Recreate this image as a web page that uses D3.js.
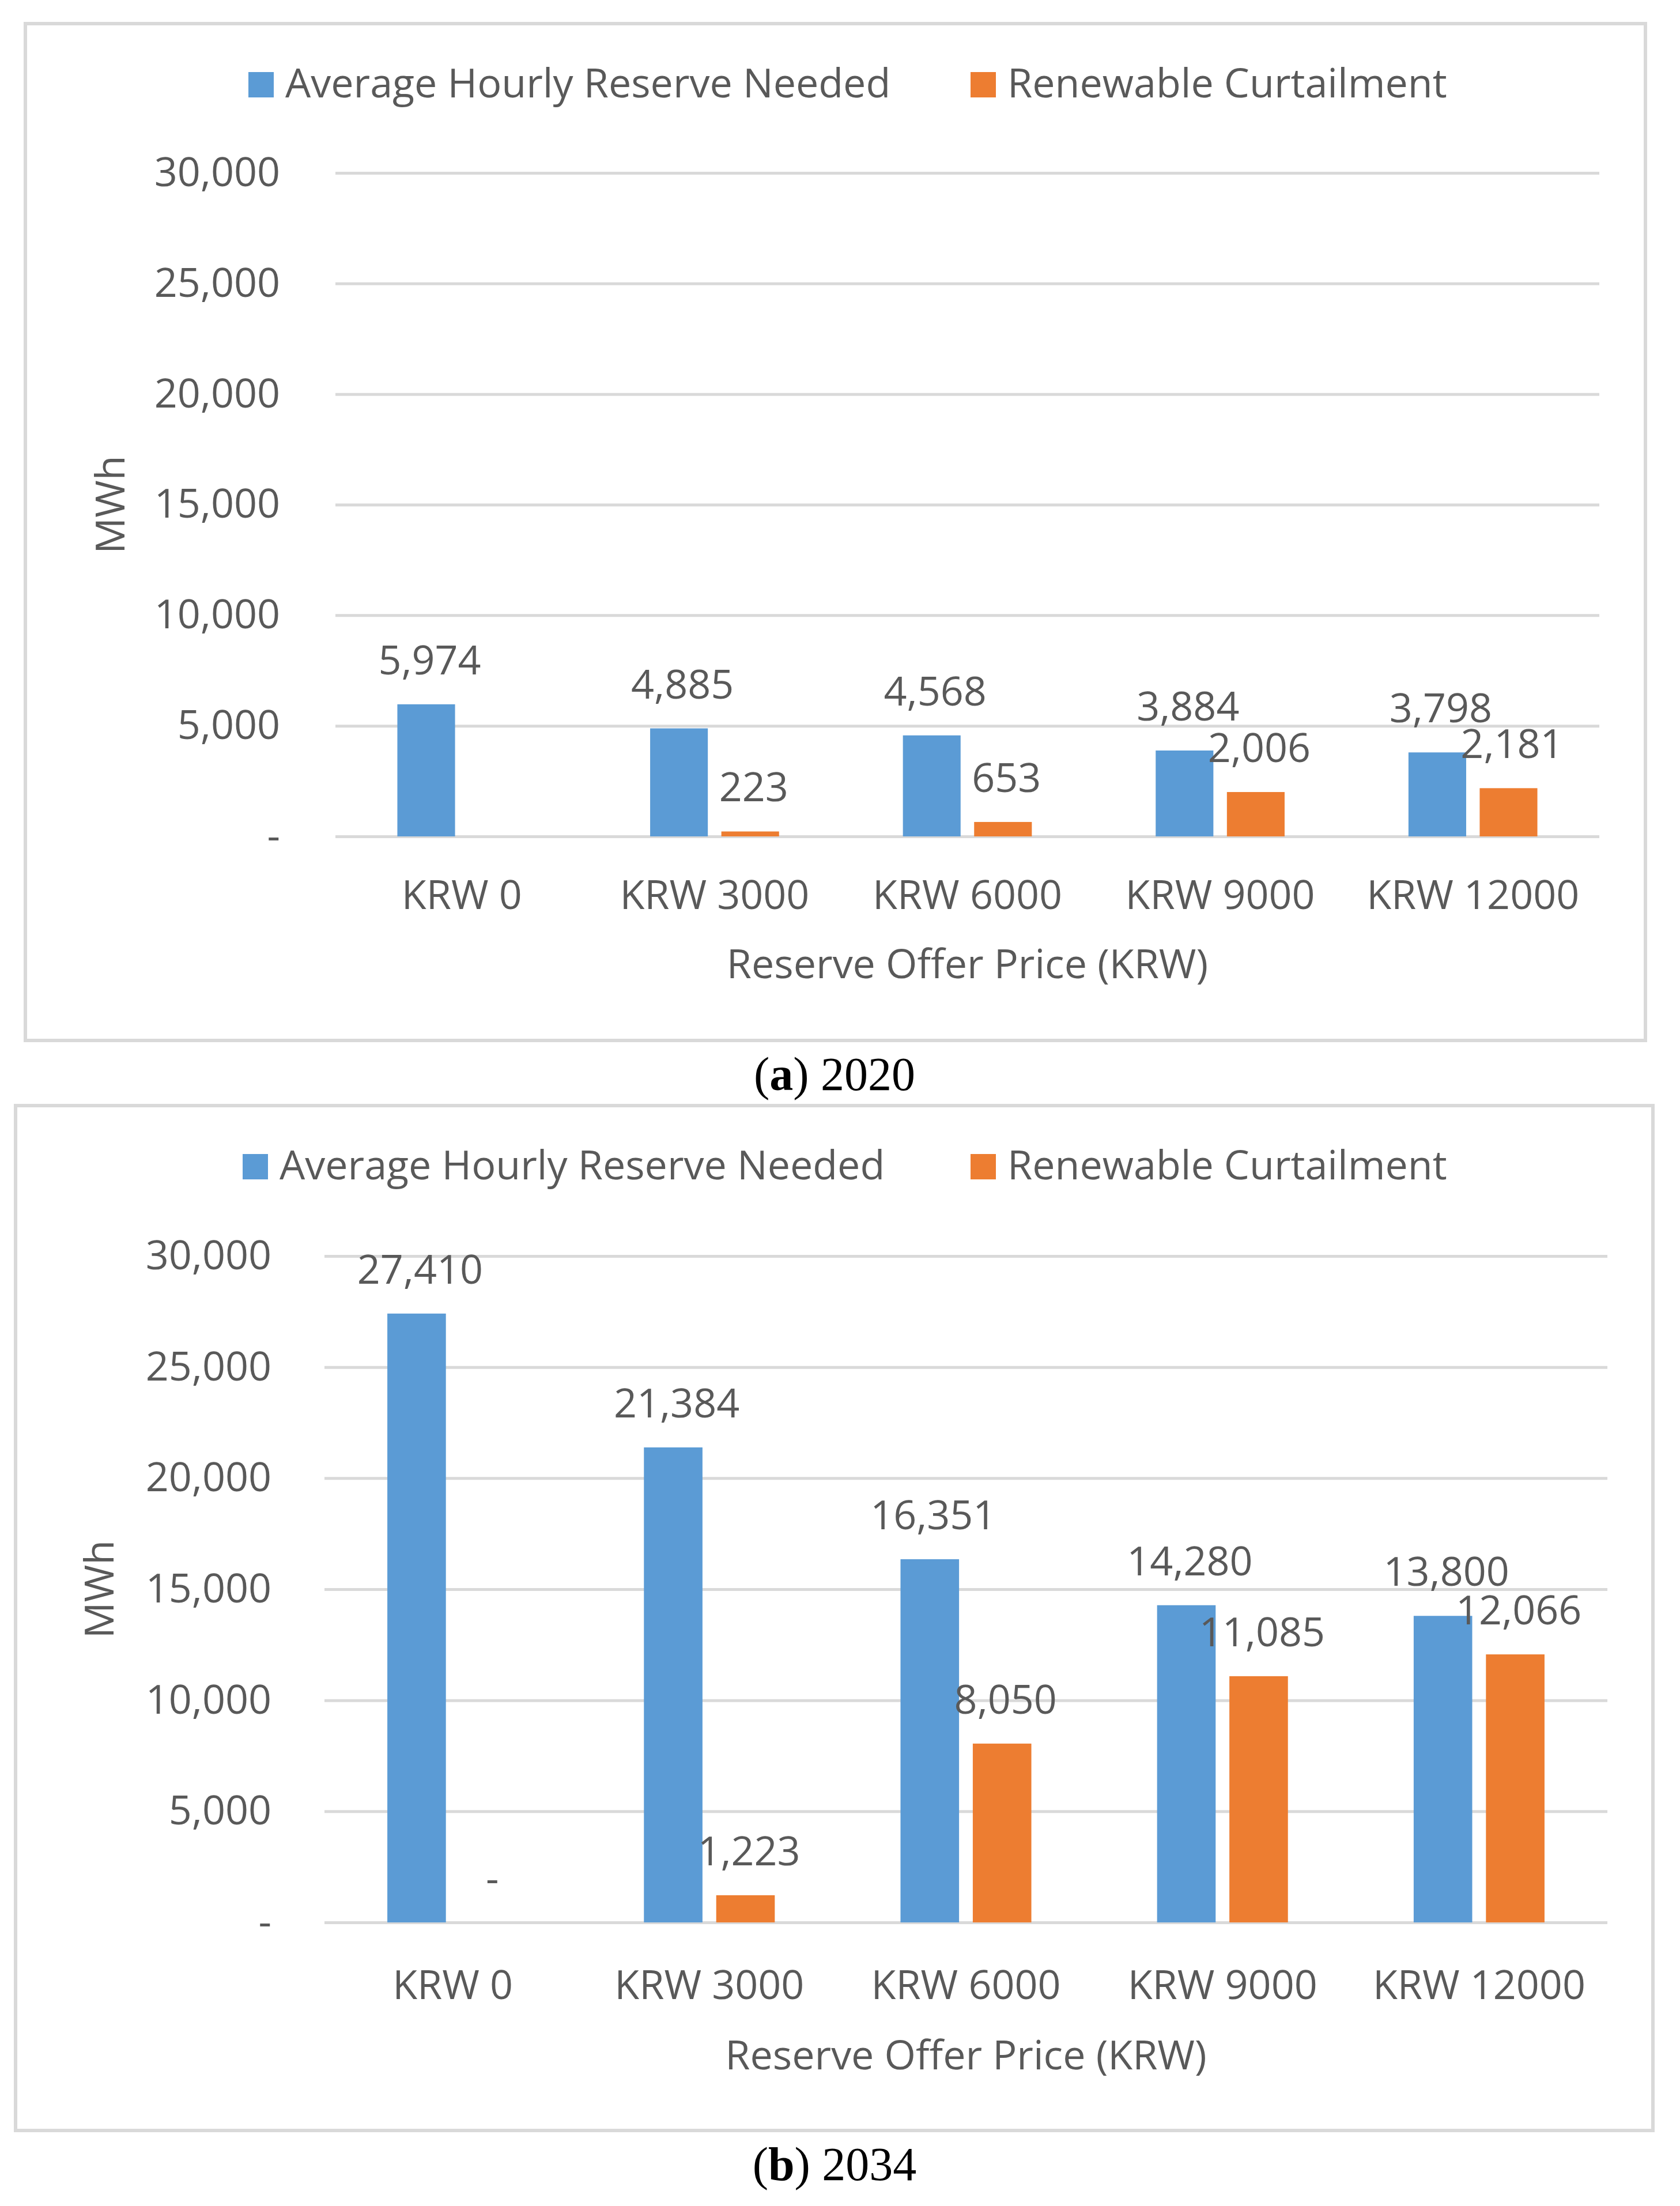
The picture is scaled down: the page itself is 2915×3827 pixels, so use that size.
<!DOCTYPE html>
<html>
<head>
<meta charset="utf-8">
<script src="https://cdn.jsdelivr.net/npm/d3@7"></script>
<style>
  body { margin: 0; background: #fff; }
  svg { display: block; }
  .chart-text { font-family: "Open Sans", sans-serif; fill: #595959; }
</style>
</head>
<body>
<script>
// values
const categories = ["KRW 0", "KRW 3000", "KRW 6000", "KRW 9000", "KRW 12000"];
const seriesNames = ["Average Hourly Reserve Needed", "Renewable Curtailment"];
const reserve2020 = [5974, 4885, 4568, 3884, 3798];
const curtail2020 = [null, 223, 653, 2006, 2181];
const reserve2034 = [27410, 21384, 16351, 14280, 13800];
const curtail2034 = [0, 1223, 8050, 11085, 12066];
const yTicks = [0, 5000, 10000, 15000, 20000, 25000, 30000];

const colors = ["#5B9BD5", "#ED7D31"];
const fmt = v => v === 0 ? "-" : d3.format(",")(v);
const fontSize = 70;

// layout of each panel (pixels)
const panels = [
    {
        series: [reserve2020, curtail2020], letter: "a", year: "2020",
        frame: { x: 44, y: 41, w: 2811, h: 1764 },
        plot: { x: 582, y: 300, w: 2193, h: 1151 },
        legend: { top: 125, sq1: 431, sq2: 1684 },
        yTitleX: 189, tickRight: 486, xTickPad: 76, xTitleY: 1697, captionY: 1891
    },
    {
        series: [reserve2034, curtail2034], letter: "b", year: "2034",
        frame: { x: 27, y: 1918, w: 2841, h: 1778 },
        plot: { x: 563, y: 2179, w: 2226, h: 1156 },
        legend: { top: 2002, sq1: 421, sq2: 1684 },
        yTitleX: 170, tickRight: 471, xTickPad: 83, xTitleY: 3590, captionY: 3782
    }
];

const svg = d3.select("body").append("svg")
    .attr("width", 2915)
    .attr("height", 3827);

panels.forEach(p => drawPanel(p));

function drawPanel(p) {
    const g = svg.append("g");

    // outer frame
    g.append("rect")
        .attr("x", p.frame.x).attr("y", p.frame.y)
        .attr("width", p.frame.w).attr("height", p.frame.h)
        .attr("fill", "none")
        .attr("stroke", "#D9D9D9")
        .attr("stroke-width", 6);

    // legend
    const sq = 44;
    [p.legend.sq1, p.legend.sq2].forEach((lx, i) => {
        g.append("rect")
            .attr("x", lx).attr("y", p.legend.top)
            .attr("width", sq).attr("height", sq)
            .attr("fill", colors[i]);
        g.append("text")
            .attr("class", "chart-text")
            .attr("x", lx + sq + 20)
            .attr("y", p.legend.top + sq)
            .attr("font-size", fontSize)
            .text(seriesNames[i]);
    });

    const plot = g.append("g")
        .attr("transform", `translate(${p.plot.x},${p.plot.y})`);

    const x0 = d3.scaleBand()
        .domain(categories)
        .range([0, p.plot.w]);

    const pad = x0.step() * 0.245;
    const x1 = d3.scaleBand()
        .domain([0, 1])
        .range([pad, x0.step() - pad])
        .paddingInner(0.19);

    const y = d3.scaleLinear()
        .domain([0, 30000])
        .range([p.plot.h, 0]);

    // gridlines
    const grid = plot.append("g")
        .call(d3.axisLeft(y).tickValues(yTicks).tickSize(-p.plot.w).tickFormat(""));
    grid.select(".domain").remove();
    grid.selectAll(".tick line")
        .attr("stroke", "#D9D9D9")
        .attr("stroke-width", 5);

    // y tick labels
    const yAxis = plot.append("g")
        .call(d3.axisLeft(y).tickValues(yTicks).tickSize(0)
            .tickPadding(p.plot.x - p.tickRight).tickFormat(fmt));
    yAxis.select(".domain").remove();
    yAxis.selectAll("text")
        .attr("class", "chart-text")
        .attr("font-size", fontSize)
        .attr("fill", "#595959");

    // bars
    const groups = plot.selectAll(".cat")
        .data(categories)
        .enter()
        .append("g")
        .attr("transform", d => `translate(${x0(d)},0)`);

    groups.each(function (cat, ci) {
        const cell = d3.select(this);
        p.series.forEach((vals, si) => {
            const v = vals[ci];
            if (v === null) return;
            cell.append("rect")
                .attr("x", x1(si))
                .attr("y", y(v))
                .attr("width", x1.bandwidth())
                .attr("height", p.plot.h - y(v))
                .attr("fill", colors[si]);
            cell.append("text")
                .attr("class", "chart-text")
                .attr("x", x1(si) + x1.bandwidth() / 2 + 6)
                .attr("y", y(v) - 52)
                .attr("text-anchor", "middle")
                .attr("font-size", fontSize)
                .attr("fill", "#404040")
                .text(fmt(v));
        });
    });

    // x axis labels
    const xAxis = plot.append("g")
        .attr("transform", `translate(0,${p.plot.h})`)
        .call(d3.axisBottom(x0).tickSize(0).tickPadding(p.xTickPad));
    xAxis.select(".domain").remove();
    xAxis.selectAll("text")
        .attr("class", "chart-text")
        .attr("font-size", fontSize)
        .attr("fill", "#595959");

    // axis titles
    g.append("text")
        .attr("class", "chart-text")
        .attr("x", p.plot.x + p.plot.w / 2)
        .attr("y", p.xTitleY)
        .attr("text-anchor", "middle")
        .attr("font-size", fontSize)
        .text("Reserve Offer Price (KRW)");

    g.append("text")
        .attr("class", "chart-text")
        .attr("transform", `translate(${p.yTitleX},${p.plot.y + p.plot.h / 2}) rotate(-90)`)
        .attr("text-anchor", "middle")
        .attr("dominant-baseline", "central")
        .attr("font-size", fontSize)
        .text("MWh");

    // caption under the panel
    const cap = g.append("text")
        .attr("x", 1448)
        .attr("y", p.captionY)
        .attr("text-anchor", "middle")
        .attr("font-family", "'Liberation Serif', 'Times New Roman', serif")
        .attr("font-size", 82)
        .attr("fill", "#000");
    cap.append("tspan").text("(");
    cap.append("tspan").attr("font-weight", "bold").text(p.letter);
    cap.append("tspan").text(") " + p.year);
}
</script>
</body>
</html>
